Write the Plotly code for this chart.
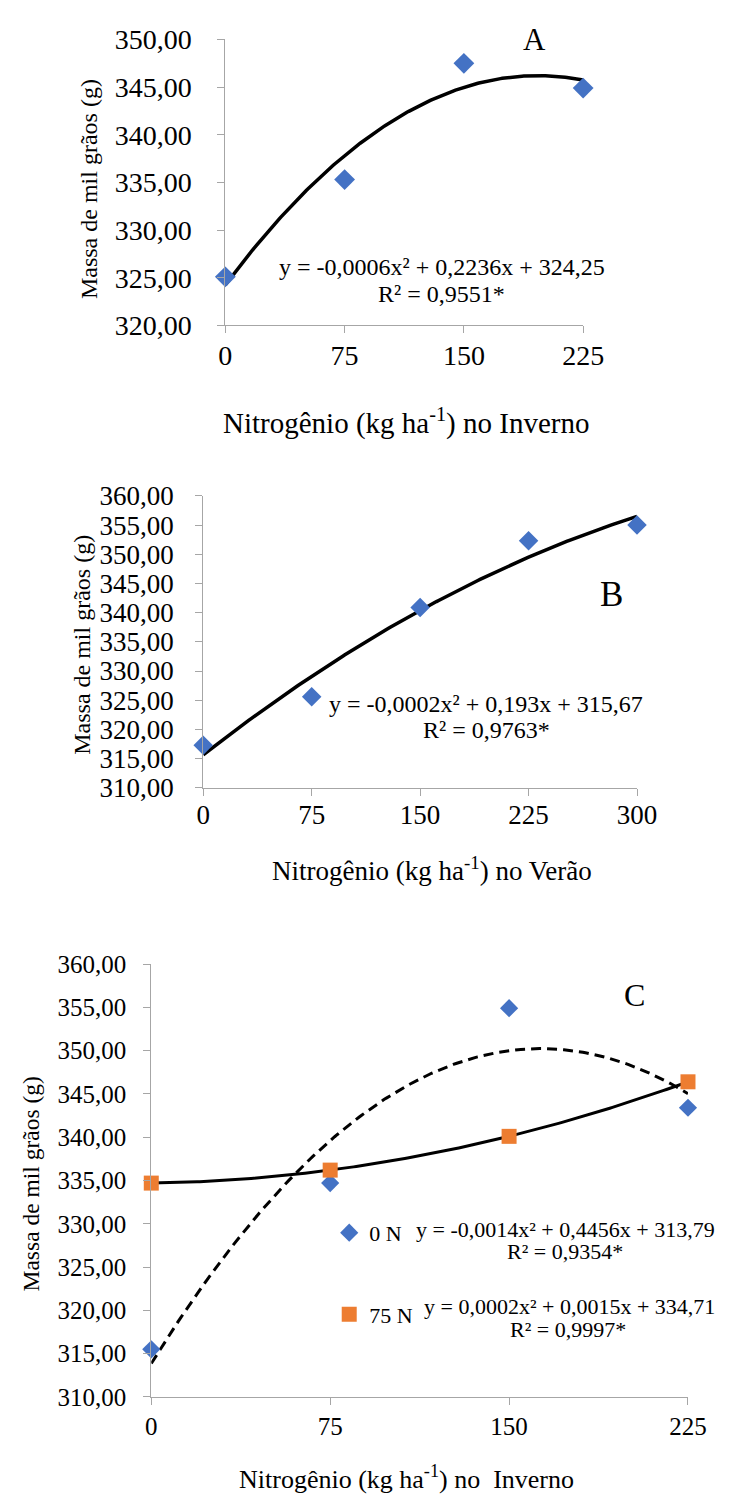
import numpy as np
import plotly.graph_objects as go

# ---- data -------------------------------------------------------------
a_dose = [0, 75, 150, 225]
a_mass = [325.1, 335.3, 347.5, 344.9]

b_dose = [0, 75, 150, 225, 300]
b_mass = [317.3, 325.6, 340.9, 352.3, 355.0]

c_dose = [0, 75, 150, 225]
c_mass_0n = [315.5, 334.7, 354.9, 343.4]
c_mass_75n = [334.7, 336.2, 340.1, 346.4]

a_yticks = [320, 325, 330, 335, 340, 345, 350]
b_yticks = [310, 315, 320, 325, 330, 335, 340, 345, 350, 355, 360]
c_yticks = [310, 315, 320, 325, 330, 335, 340, 345, 350, 355, 360]

W, H = 734, 1506
FONT = "Liberation Serif, Times New Roman, DejaVu Serif, serif"
BLUE = "#4472C4"
ORANGE = "#ED7D31"
AXIS = "#a6a6a6"


def fx(px):
    return px / W


def fy(py):
    return 1 - py / H


def trend(xs, ys, xmax):
    """Second-order least-squares trendline through the points."""
    coef = np.polyfit(xs, ys, 2)
    xx = np.linspace(0, xmax, 200)
    return xx, np.polyval(coef, xx)


fig = go.Figure()

# ---- panel A ----------------------------------------------------------
tx, ty = trend(a_dose, a_mass, 225)
fig.add_trace(go.Scatter(x=tx, y=ty, mode="lines", line=dict(color="black", width=3.5),
                         xaxis="x", yaxis="y", showlegend=False, cliponaxis=False))
fig.add_trace(go.Scatter(x=a_dose, y=a_mass, mode="markers",
                         marker=dict(symbol="diamond", size=16, color=BLUE),
                         xaxis="x", yaxis="y", showlegend=False, cliponaxis=False))

# ---- panel B ----------------------------------------------------------
tx, ty = trend(b_dose, b_mass, 300)
fig.add_trace(go.Scatter(x=tx, y=ty, mode="lines", line=dict(color="black", width=3.5),
                         xaxis="x2", yaxis="y2", showlegend=False, cliponaxis=False))
fig.add_trace(go.Scatter(x=b_dose, y=b_mass, mode="markers",
                         marker=dict(symbol="diamond", size=15, color=BLUE),
                         xaxis="x2", yaxis="y2", showlegend=False, cliponaxis=False))

# ---- panel C ----------------------------------------------------------
tx, ty = trend(c_dose, c_mass_0n, 225)
fig.add_trace(go.Scatter(x=tx, y=ty, mode="lines",
                         line=dict(color="black", width=3, dash="10px,6px"),
                         xaxis="x3", yaxis="y3", showlegend=False, cliponaxis=False))
tx, ty = trend(c_dose, c_mass_75n, 225)
fig.add_trace(go.Scatter(x=tx, y=ty, mode="lines", line=dict(color="black", width=3),
                         xaxis="x3", yaxis="y3", showlegend=False, cliponaxis=False))
fig.add_trace(go.Scatter(x=c_dose, y=c_mass_0n, mode="markers", name="0 N",
                         marker=dict(symbol="diamond", size=14, color=BLUE),
                         xaxis="x3", yaxis="y3", legendgroup="g0", cliponaxis=False))
fig.add_trace(go.Scatter(x=c_dose, y=c_mass_75n, mode="markers", name="75 N",
                         marker=dict(symbol="square", size=15, color=ORANGE),
                         xaxis="x3", yaxis="y3", legendgroup="g1", cliponaxis=False))


def xaxis(dom, anchor, rng, ticks, size, standoff):
    return dict(domain=dom, anchor=anchor, range=rng, tickvals=ticks,
                showline=True, linecolor=AXIS, linewidth=1, ticks="outside",
                tickcolor=AXIS, ticklen=7, showgrid=False, zeroline=False,
                tickfont=dict(family=FONT, size=size, color="black"),
                ticklabelstandoff=standoff)


def yaxis(dom, anchor, rng, ticks, size, standoff):
    return dict(domain=dom, anchor=anchor, range=rng, tickvals=ticks,
                tickformat=".2f", showline=True, linecolor=AXIS, linewidth=1,
                ticks="outside", tickcolor=AXIS, ticklen=7, showgrid=False,
                zeroline=False, tickfont=dict(family=FONT, size=size, color="black"),
                ticklabelstandoff=standoff)


layout = dict(
    width=W, height=H, margin=dict(l=0, r=0, t=0, b=0),
    paper_bgcolor="white", plot_bgcolor="white", separators=",.",
    font=dict(family=FONT, color="black"),
    xaxis=xaxis([fx(227), fx(599)], "y", [0, 225], a_dose, 28, -2),
    yaxis=yaxis([fy(317), fy(25)], "x", [320, 350], a_yticks, 28, 20),
    xaxis2=xaxis([fx(204), fx(655)], "y2", [0, 300], b_dose, 27, -4),
    yaxis2=yaxis([fy(789), fy(491)], "x2", [310, 360], b_yticks, 27, 16),
    xaxis3=xaxis([fx(150), fx(708)], "y3", [0, 225], c_dose, 25, 0),
    yaxis3=yaxis([fy(1411), fy(969)], "x3", [310, 360], c_yticks, 25, 12),
    legend=dict(x=fx(335), y=fy(1222), xanchor="left", yanchor="top",
                font=dict(family=FONT, size=22, color="black"),
                bgcolor="rgba(0,0,0,0)", traceorder="grouped", tracegroupgap=50,
                itemwidth=30),
    showlegend=True,
)
fig.update_layout(**layout)


def note(text, px, py, size, angle=0):
    fig.add_annotation(text=text, x=fx(px), y=fy(py), xref="paper", yref="paper",
                       xanchor="center", yanchor="middle", showarrow=False,
                       textangle=angle, font=dict(family=FONT, size=size, color="black"))


# panel letters
note("A", 548, 25, 31)
note("B", 628, 592, 35)
note("C", 652, 1001, 32)

# axis titles
note("Nitrogênio (kg ha<sup>-1</sup>) no Inverno", 415, 415, 29)
note("Massa de mil grãos (g)", 86, 178, 24, -90)
note("Nitrogênio (kg ha<sup>-1</sup>) no Verão", 442, 872, 27)
note("Massa de mil grãos (g)", 78, 643, 24, -90)
note("Nitrogênio (kg ha<sup>-1</sup>) no  Inverno", 415, 1493, 26)
note("Massa de mil grãos (g)", 25, 1194, 23.5, -90)

# trendline equations
note("y = -0,0006x² + 0,2236x + 324,25", 452, 257, 24)
note("R² = 0,9551*", 452, 285, 24)
note("y = -0,0002x² + 0,193x + 315,67", 498, 703, 24)
note("R² = 0,9763*", 499, 730, 24)
note("y = -0,0014x² + 0,4456x + 313,79", 581, 1240, 22)
note("R² = 0,9354*", 580, 1262, 22)
note("y = 0,0002x² + 0,0015x + 334,71", 585, 1319, 22)
note("R² = 0,9997*", 583, 1342, 22)

fig.write_html("out.html")
